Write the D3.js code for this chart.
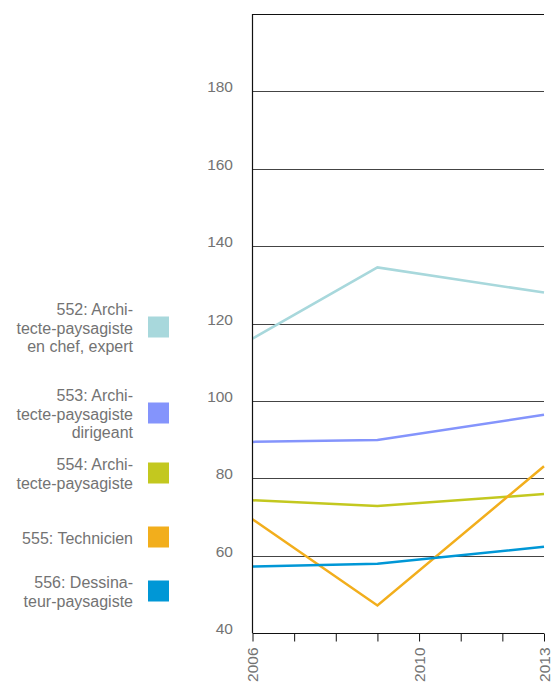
<!DOCTYPE html>
<html>
<head>
<meta charset="utf-8">
<script src="https://cdn.jsdelivr.net/npm/d3@7/dist/d3.min.js"></script>
<style>
  html, body { margin: 0; padding: 0; background: #fff; }
  svg { display: block; font-family: "Liberation Sans", Arial, Helvetica, sans-serif; }
</style>
</head>
<body>
<svg id="chart" width="555" height="686"></svg>
<script>
// data
var years = [2006, 2009, 2013];
var seriesNames = [
    ['552: Archi-', 'tecte-paysagiste', 'en chef, expert'],
    ['553: Archi-', 'tecte-paysagiste', 'dirigeant'],
    ['554: Archi-', 'tecte-paysagiste'],
    ['555: Technicien'],
    ['556: Dessina-', 'teur-paysagiste']
];
var s552 = [116.1, 134.5, 128.0];
var s553 = [89.4, 89.9, 96.4];
var s554 = [74.3, 72.8, 75.9];
var s555 = [69.4, 47.1, 83.1];
var s556 = [57.2, 57.9, 62.3];
var yTicks = [40, 60, 80, 100, 120, 140, 160, 180];
var xTickYears = [2006, 2007, 2008, 2009, 2010, 2011, 2012, 2013];
var xLabelYears = [2006, 2010, 2013];

// styles / layout
var colors = ['#a8d8dc', '#8494fc', '#c3c81f', '#f2ae1c', '#0097d6'];
var legendCenters = [327, 413, 473, 537, 591];
var textColor = '#737373';

var svg = d3.select('#chart');
var x = d3.scaleLinear().domain([2006, 2013]).range([252.5, 544]);
var y = d3.scaleLinear().domain([40, 200]).range([633, 14]);

// grid
svg.append('g').selectAll('line')
    .data(yTicks.filter(function (d) { return d > 40; }))
    .join('line')
    .attr('x1', x(2006)).attr('x2', x(2013))
    .attr('y1', function (d) { return Math.round(y(d)) + 0.5; })
    .attr('y2', function (d) { return Math.round(y(d)) + 0.5; })
    .attr('stroke', '#444').attr('stroke-width', 1);

// top border
svg.append('line')
    .attr('x1', x(2006)).attr('x2', x(2013))
    .attr('y1', Math.round(y(200)) + 0.5).attr('y2', Math.round(y(200)) + 0.5)
    .attr('stroke', '#111').attr('stroke-width', 1);

// y labels
svg.append('g').selectAll('text')
    .data(yTicks)
    .join('text')
    .attr('x', 233)
    .attr('y', function (d) { return y(d) + 1; })
    .attr('text-anchor', 'end')
    .attr('font-size', '15.5px')
    .attr('fill', textColor)
    .text(function (d) { return d; });

// lines
var line = d3.line()
    .x(function (d, i) { return x(years[i]); })
    .y(function (d) { return y(d); });
var allSeries = [s552, s553, s554, s555, s556];
svg.append('g').selectAll('path')
    .data(allSeries)
    .join('path')
    .attr('d', line)
    .attr('fill', 'none')
    .attr('stroke', function (d, i) { return colors[i]; })
    .attr('stroke-width', 2.5)
    .attr('stroke-linejoin', 'miter');

// axes
svg.append('line')
    .attr('x1', x(2006)).attr('x2', x(2006))
    .attr('y1', y(200)).attr('y2', y(40))
    .attr('stroke', '#111').attr('stroke-width', 1.2);

var xAxis = d3.axisBottom(x)
    .tickValues(xTickYears)
    .tickSize(8)
    .tickFormat(function (d) { return xLabelYears.indexOf(d) >= 0 ? d : ''; });
var gx = svg.append('g')
    .attr('transform', 'translate(0,' + (y(40) + 0.5) + ')')
    .call(xAxis);
gx.select('.domain').attr('stroke', '#111').attr('d', 'M' + x(2006) + ',0H' + x(2013));
gx.selectAll('.tick line').attr('stroke', '#111');
gx.selectAll('.tick text')
    .attr('font-size', '15.5px')
    .attr('font-family', '"Liberation Sans", Arial, sans-serif')
    .attr('fill', textColor)
    .attr('text-anchor', 'end')
    .attr('transform', 'rotate(-90)')
    .attr('x', -14)
    .attr('y', 0)
    .attr('dy', '0.35em');

// legend
var leg = svg.append('g').selectAll('g')
    .data(seriesNames)
    .join('g')
    .attr('transform', function (d, i) { return 'translate(0,' + legendCenters[i] + ')'; });
leg.append('rect')
    .attr('x', 148).attr('y', -10.5)
    .attr('width', 21).attr('height', 21)
    .attr('fill', function (d, i) { return colors[i]; });
leg.each(function (d) {
    var g = d3.select(this);
    var lh = 18.5;
    var top = -(d.length - 1) * lh / 2 + 1;
    g.selectAll('text').data(d).join('text')
        .attr('x', 133)
        .attr('y', function (t, j) { return top + j * lh + 5.5; })
        .attr('text-anchor', 'end')
        .attr('font-size', '16px')
        .attr('fill', textColor)
        .text(function (t) { return t; });
});
</script>
</body>
</html>
